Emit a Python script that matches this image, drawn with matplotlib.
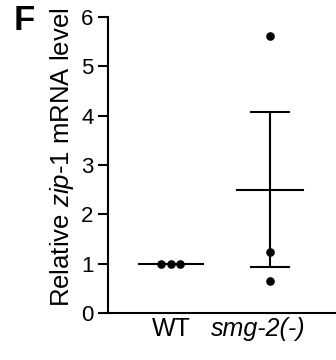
import matplotlib
matplotlib.use("Agg")
import matplotlib.pyplot as plt
import matplotlib.transforms as mtransforms
import numpy as np

plt.rcParams['font.family'] = ['Liberation Sans', 'DejaVu Sans']
plt.rcParams['mathtext.fontset'] = 'custom'
plt.rcParams['mathtext.it'] = 'Liberation Sans:italic'
plt.rcParams['mathtext.rm'] = 'Liberation Sans'

categories = ["WT", "smg-2(-)"]
wt_values = [1.0, 1.0, 1.0]
smg_values = [5.62, 1.24, 0.65]
wt_jitter = [-0.096, 0.0, 0.096]
smg_jitter = [0.0, 0.0, 0.0]
yticks = [0, 1, 2, 3, 4, 5, 6]

fig = plt.figure(figsize=(3.36, 3.6), dpi=100)
ax = fig.add_axes([108/336, 1-313/360, 1-108/336, (313-17)/360])

lw = 1.5
groups = [wt_values, smg_values]
jit = [wt_jitter, smg_jitter]
mean_hw = [0.32, 0.33]
for i, (vals, jj) in enumerate(zip(groups, jit)):
    v = np.array(vals)
    ax.plot(i + np.array(jj), v, 'o', color='black', ms=5.2, zorder=3)
    m = v.mean()
    ax.plot([i - mean_hw[i], i + mean_hw[i]], [m, m], color='black', lw=lw)
    sem = v.std(ddof=1) / np.sqrt(len(v))
    if sem > 0:
        ax.errorbar([i], [m], yerr=[sem], color='black', lw=lw, capsize=0, fmt='none')
        for yv in (m - sem, m + sem):
            ax.plot([i - 0.19, i + 0.19], [yv, yv], color='black', lw=lw)

ax.set_ylim(0, 6)
ax.set_xlim(-0.636, 1.667)
ax.set_yticks(yticks)
ax.set_yticklabels([str(t) for t in yticks], fontsize=16)
ax.tick_params(axis='y', direction='out', length=7, width=lw, pad=3.5)
ax.set_xticks([0, 1])
ax.set_xticklabels(categories, fontsize=18)
ax.tick_params(axis='x', length=0, pad=3)
lbls = ax.get_xticklabels()
lbls[1].set_style('italic')
lbls[1].set_transform(lbls[1].get_transform() + mtransforms.ScaledTranslation(-12/100, 0, fig.dpi_scale_trans))

for s in ['top', 'right']:
    ax.spines[s].set_visible(False)
for s in ['left', 'bottom']:
    ax.spines[s].set_linewidth(lw)

ax.set_ylabel("Relative $\\it{zip}$-$\\it{1}$ mRNA level", fontsize=18.5)
ax.yaxis.set_label_coords(-0.14, 0.525)
fig.text(14/336, 1-30/360, "F", fontsize=25, fontweight='bold', va='baseline')

fig.savefig("out.png", dpi=100)
